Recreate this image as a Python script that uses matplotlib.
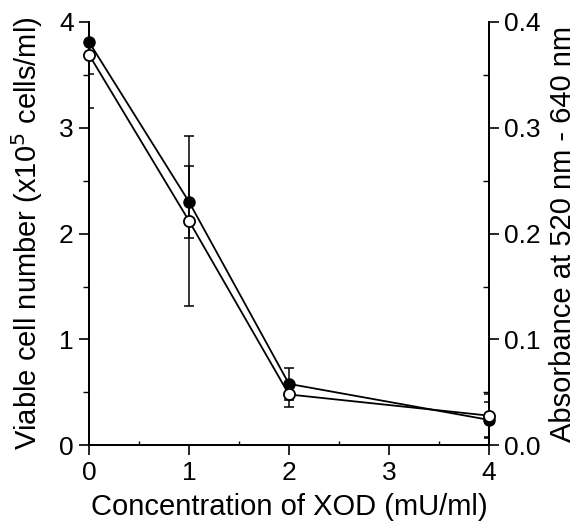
import matplotlib.pyplot as plt
from matplotlib.ticker import MultipleLocator

plt.rcParams["font.family"] = ["Liberation Sans", "DejaVu Sans"]

xod = [0, 1, 2, 4]
cells = [3.81, 2.30, 0.58, 0.24]
cells_err = [0.30, 0.34, 0.15, 0.17]
absorb = [0.369, 0.212, 0.048, 0.028]
absorb_err = [0.050, 0.080, 0.012, 0.020]

fig = plt.figure(figsize=(5.82, 5.22), dpi=100)
ax = fig.add_axes([0.153, 0.147, 0.687, 0.811])
ax2 = ax.twinx()

# error bars clipped to the frame, markers allowed to sit on the spines
ax.errorbar(xod, cells, yerr=cells_err, fmt="none", ecolor="black", elinewidth=1.1,
            capsize=3.5, capthick=1.1, zorder=2)
ax.plot(xod, cells, color="black", lw=1.3, marker="o", ms=8, mfc="black",
        mec="black", clip_on=False, zorder=3)
ax2.errorbar(xod, absorb, yerr=absorb_err, fmt="none", ecolor="black", elinewidth=1.1,
             capsize=3.5, capthick=1.1, zorder=2)
ax2.plot(xod, absorb, color="black", lw=1.3, marker="o", ms=8, mfc="white",
         mec="black", mew=1.3, clip_on=False, zorder=4)

ax.set_xlim(0, 4)
ax.set_ylim(0, 4)
ax2.set_ylim(0, 0.4)

ax.xaxis.set_major_locator(MultipleLocator(1))
ax.xaxis.set_minor_locator(MultipleLocator(0.5))
ax.yaxis.set_major_locator(MultipleLocator(1))
ax.yaxis.set_minor_locator(MultipleLocator(0.5))
ax2.yaxis.set_major_locator(MultipleLocator(0.1))
ax2.yaxis.set_minor_locator(MultipleLocator(0.05))
ax2.yaxis.set_major_formatter(plt.FormatStrFormatter("%.1f"))

for a in (ax, ax2):
    a.spines["top"].set_visible(False)
    for s in a.spines.values():
        s.set_linewidth(1.3)
    a.tick_params(which="major", length=7, width=1.2, labelsize=19, direction="out", pad=4)
    a.tick_params(which="minor", length=4, width=1.0, direction="out")
ax.tick_params(axis="x", which="minor", direction="in", length=3)
ax2.tick_params(axis="y", which="minor", direction="in")
ax.tick_params(top=False, right=False)

ax.set_xlabel("Concentration of XOD (mU/ml)", fontsize=21, labelpad=6)
ax.set_ylabel("Viable cell number (x10$^5$ cells/ml)", fontsize=21, labelpad=10)
ax2.set_ylabel("Absorbance at 520 nm - 640 nm", fontsize=21, labelpad=6)

fig.savefig("out.png", dpi=100)
